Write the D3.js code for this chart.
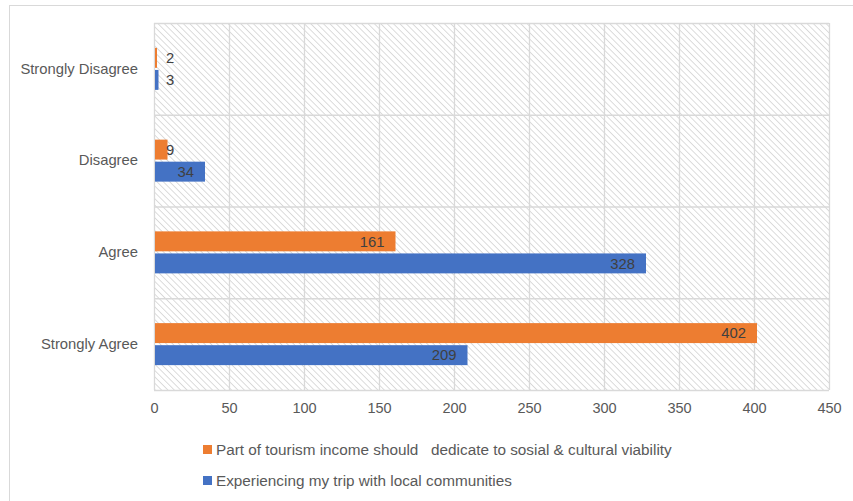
<!DOCTYPE html>
<html><head><meta charset="utf-8">
<script src="https://cdn.jsdelivr.net/npm/d3@7"></script>
<style>
body{margin:0;background:#fff;}
text{font-family:"Liberation Sans",Arial,sans-serif;fill:#595959;}
</style></head>
<body><svg id="c" width="853" height="501"></svg>
<script>
const categories = ["Strongly Disagree","Disagree","Agree","Strongly Agree"];
const seriesNames = ["Part of tourism income should   dedicate to sosial & cultural viability","Experiencing my trip with local communities"];
const seriesTourismIncome = [2, 9, 161, 402];
const seriesLocalCommunities = [3, 34, 328, 209];
const seriesColors = ["#ED7D31","#4472C4"];
const xTicks = [0,50,100,150,200,250,300,350,400,450];

const svg = d3.select("#c");
const W=853,H=501;
const m = {left:154, right:829, top:23, bottom:390};

svg.append("rect").attr("x",9.5).attr("y",5.5).attr("width",W+20).attr("height",H+20)
  .attr("fill","#fff").attr("stroke","#d9d9d9").attr("stroke-width",1);

const defs = svg.append("defs");
const pat = defs.append("pattern").attr("id","hatch").attr("patternUnits","userSpaceOnUse")
  .attr("width",4.5).attr("height",4.5).attr("patternTransform","rotate(-45)");
pat.append("rect").attr("width",4.5).attr("height",4.5).attr("fill","#fff");
pat.append("line").attr("x1",0).attr("y1",0).attr("x2",0).attr("y2",4.5)
  .attr("stroke","#d0d0d0").attr("stroke-width",1.5);

const x = d3.scaleLinear().domain([0,450]).range([m.left,m.right]);
const y = d3.scaleBand().domain(categories).range([m.top,m.bottom]).padding(0);
const groupH = 42;
const inner = d3.scaleBand().domain([0,1]).range([0,groupH]).paddingInner(4/42);

svg.append("rect").attr("x",m.left).attr("y",m.top).attr("width",m.right-m.left)
  .attr("height",m.bottom-m.top).attr("fill","url(#hatch)");

svg.append("g").selectAll("line").data(xTicks).join("line")
  .attr("x1",d=>x(d)+0.5).attr("x2",d=>x(d)+0.5).attr("y1",m.top).attr("y2",m.bottom)
  .attr("stroke","#d9d9d9").attr("stroke-width",1.3);
const bounds = categories.map(c=>y(c)).concat([m.bottom]);
svg.append("g").selectAll("line").data(bounds).join("line")
  .attr("x1",m.left).attr("x2",m.right).attr("y1",d=>d+0.5).attr("y2",d=>d+0.5)
  .attr("stroke","#d9d9d9").attr("stroke-width",1.3);

const xAxis = d3.axisBottom(x).tickValues(xTicks).tickSize(0).tickPadding(13);
const gx = svg.append("g").attr("transform",`translate(0,${m.bottom})`).call(xAxis);
gx.select(".domain").remove();
gx.selectAll("text").style("font-size","14.5px").style("fill","#595959").style("font-family","'Liberation Sans',Arial,sans-serif");

const yAxis = d3.axisLeft(y).tickSize(0).tickPadding(16);
const gy = svg.append("g").attr("transform",`translate(${m.left},0)`).call(yAxis);
gy.select(".domain").remove();
gy.selectAll("text").style("font-size","14.8px").style("fill","#595959").style("font-family","'Liberation Sans',Arial,sans-serif");

const series = [seriesTourismIncome, seriesLocalCommunities];
series.forEach((vals,si)=>{
  const g = svg.append("g");
  vals.forEach((v,i)=>{
    const c = categories[i];
    const y0 = y(c) + (y.bandwidth()-groupH)/2 + inner(si);
    g.append("rect").attr("x",x(0)+1).attr("y",y0).attr("width",Math.max(x(v)-x(0)-1,1.5))
      .attr("height",inner.bandwidth()).attr("fill",seriesColors[si]);
    const t = g.append("text").attr("y",y0+inner.bandwidth()/2).attr("dy","0.36em")
      .attr("text-anchor","end").style("font-size","14.8px").style("fill","#404040").text(v);
    const tw = t.node().getComputedTextLength();
    const endX = Math.max(x(v)-11, x(0)+12+tw);
    t.attr("x",endX);
  });
});

const leg = svg.append("g");
seriesNames.forEach((n,i)=>{
  const ly = 450 + i*31;
  leg.append("rect").attr("x",203).attr("y",ly-5).attr("width",9).attr("height",9).attr("fill",seriesColors[i]);
  leg.append("text").attr("x",216).attr("y",ly).attr("dy","0.35em").attr("xml:space","preserve")
    .style("white-space","pre").style("font-size","15.3px").text(n);
});
</script></body></html>
